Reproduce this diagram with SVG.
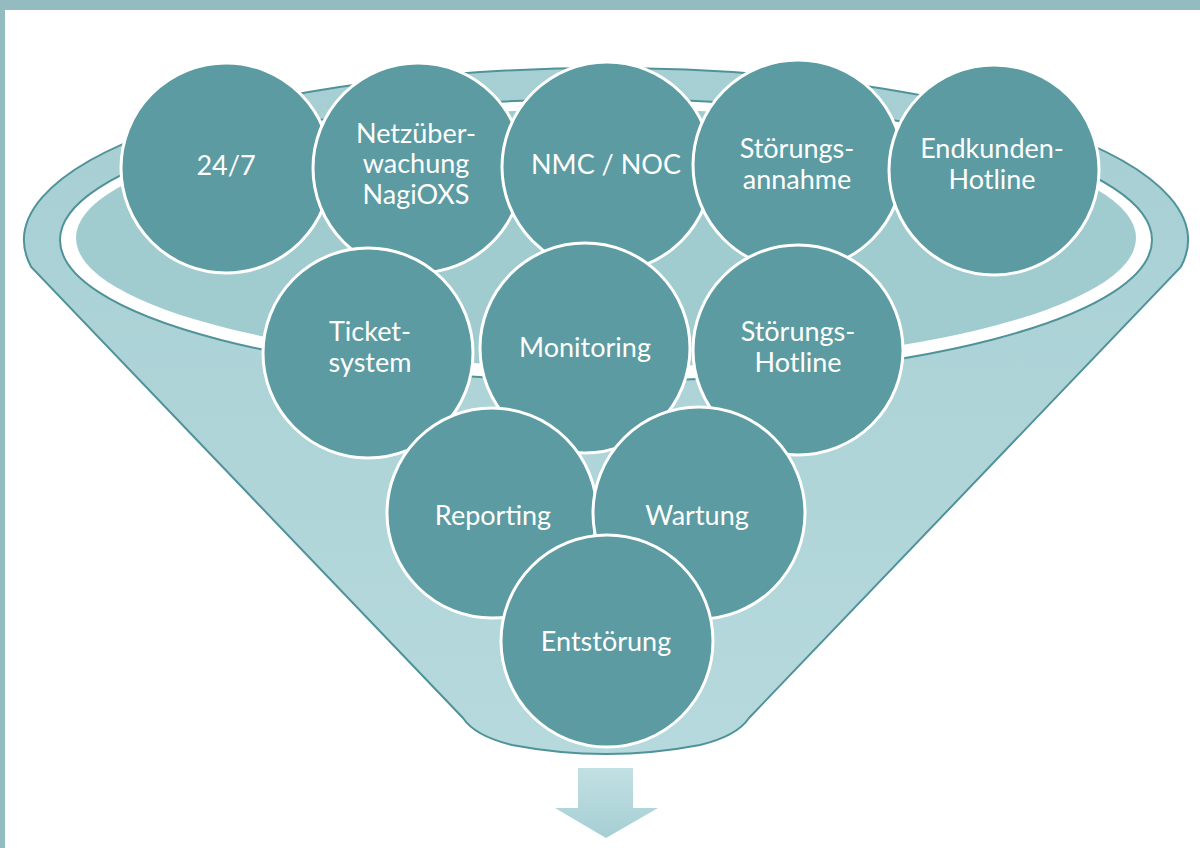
<svg xmlns="http://www.w3.org/2000/svg" width="1200" height="848" viewBox="0 0 1200 848">
  <style>
    .node circle { fill: #5b9ba1; stroke: #ffffff; stroke-width: 3; }
    .node text { font-family: Lato, "Open Sans", "Liberation Sans", sans-serif; font-size: 27px; fill: #ffffff; text-anchor: middle; }
    .rim { stroke: #4f9399; stroke-width: 2; }
  </style>
  <defs>
    <linearGradient id="funnelGrad" x1="0" y1="0" x2="0" y2="1">
      <stop offset="0" stop-color="#a6cfd3"/>
      <stop offset="1" stop-color="#b6d9dd"/>
    </linearGradient>
    <linearGradient id="arrowGrad" x1="0" y1="0" x2="0" y2="1">
      <stop offset="0" stop-color="#c2e0e3"/>
      <stop offset="1" stop-color="#a5cfd4"/>
    </linearGradient>
  </defs>
  <rect x="0" y="0" width="1200" height="848" fill="#ffffff"/>
  <rect x="0" y="0" width="1200" height="10" fill="#94bcc0"/>
  <rect x="0" y="0" width="5" height="848" fill="#94bcc0"/>

  <g id="funnel">
    <path class="rim" fill="url(#funnelGrad)" d="M 31.2,267 A 582,172 0 1 1 1180.8,267 L 749,718 Q 737,736 700,745 Q 606,763 512,745 Q 475,736 463,718 Z"/>
    <ellipse class="rim" cx="606" cy="240" rx="546" ry="141" fill="#ffffff"/>
    <ellipse cx="606" cy="238" rx="530" ry="129" fill="#a0cbcf"/>
  </g>

  <g id="connectors">
    <polygon points="578,768 633,768 633,808 658,808 606,838 555,808 578,808" fill="url(#arrowGrad)"/>
  </g>

  <g id="n-247" class="node">
    <circle cx="226" cy="168" r="105"/>
    <text x="226" y="175">24/7</text>
  </g>
  <g id="n-netz" class="node">
    <circle cx="418" cy="168" r="105"/>
    <text x="416" y="143">Netzüber-</text>
    <text x="416" y="173">wachung</text>
    <text x="416" y="204">NagiOXS</text>
  </g>
  <g id="n-nmc" class="node">
    <circle cx="607" cy="167" r="105"/>
    <text x="606" y="174">NMC / NOC</text>
  </g>
  <g id="n-stoerungsannahme" class="node">
    <circle cx="798" cy="165" r="105"/>
    <text x="797" y="158">Störungs-</text>
    <text x="797" y="189">annahme</text>
  </g>
  <g id="n-endkunden" class="node">
    <circle cx="994" cy="170" r="105"/>
    <text x="992" y="158">Endkunden-</text>
    <text x="992" y="189">Hotline</text>
  </g>
  <g id="n-ticket" class="node">
    <circle cx="368" cy="353" r="105"/>
    <text x="370" y="341">Ticket-</text>
    <text x="370" y="372">system</text>
  </g>
  <g id="n-monitoring" class="node">
    <circle cx="585" cy="348" r="105"/>
    <text x="585" y="357">Monitoring</text>
  </g>
  <g id="n-stoerungshotline" class="node">
    <circle cx="798" cy="350" r="105"/>
    <text x="798" y="341">Störungs-</text>
    <text x="798" y="372">Hotline</text>
  </g>
  <g id="n-reporting" class="node">
    <circle cx="492" cy="513" r="105"/>
    <text x="493" y="525">Reporting</text>
  </g>
  <g id="n-wartung" class="node">
    <circle cx="699" cy="513" r="106"/>
    <text x="697" y="525">Wartung</text>
  </g>
  <g id="n-entstoerung" class="node">
    <circle cx="607" cy="641" r="106"/>
    <text x="606" y="651">Entstörung</text>
  </g>
</svg>
